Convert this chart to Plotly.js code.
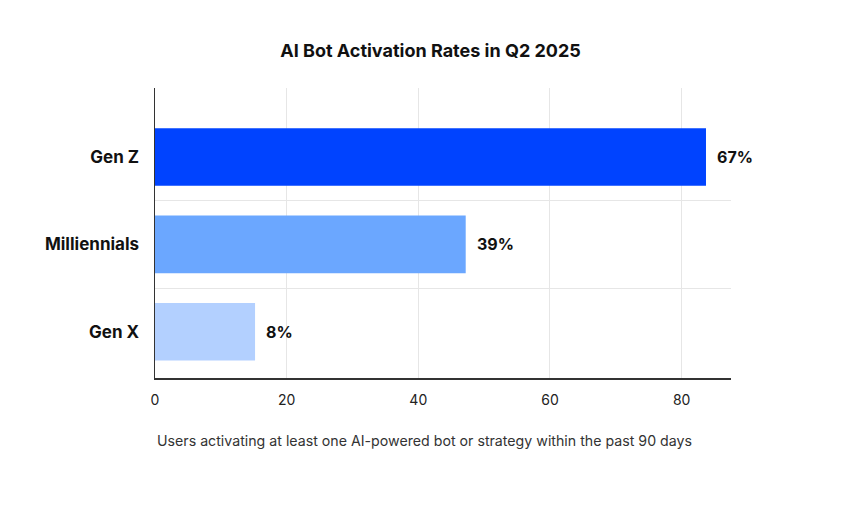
<!DOCTYPE html>
<html>
<head>
<meta charset="utf-8">
<script src="https://cdn.plot.ly/plotly-3.0.1.min.js"></script>
<style>html,body{margin:0;padding:0;background:#fff;}#chart{width:868px;height:510px;}</style>
</head>
<body>
<div id="chart"></div>
<script>
// Categories listed bottom to top
const categories = ["Gen X", "Milliennials", "Gen Z"];
const positions = [0, 1, 2];
const barValues = [15.2, 47.2, 83.7];
const valueLabels = ["8%", "39%", "67%"];
const barColors = ["#b3d0ff", "#6ba7ff", "#0043ff"];
const xTicks = [0, 20, 40, 60, 80];
const titleText = "AI Bot Activation Rates in Q2 2025";
const noteText = "Users activating at least one AI-powered bot or strategy within the past 90 days";

const FONT = "Inter, 'Noto Sans', 'DejaVu Sans', sans-serif";

const trace = {
  type: "bar",
  orientation: "h",
  x: barValues,
  y: positions,
  marker: {color: barColors, line: {width: 0}},
  width: 0.66,
  hoverinfo: "none"
};

const annotations = barValues.map((v, i) => ({
  x: v, y: positions[i], xref: "x", yref: "y",
  text: "<b>" + valueLabels[i] + "</b>",
  showarrow: false, xanchor: "left", xshift: 9,
  font: {family: FONT, size: 16, color: "#111"}
}));
annotations.push({
  x: 0, y: -0.217, xref: "paper", yref: "paper",
  text: noteText, showarrow: false, xanchor: "left", yanchor: "middle",
  font: {family: FONT, size: 14.2, color: "#333"}
});

const layout = {
  width: 868, height: 510,
  margin: {l: 155, r: 137, t: 88, b: 132},
  paper_bgcolor: "#fff", plot_bgcolor: "#fff",
  showlegend: false,
  title: {
    text: "<b>" + titleText + "</b>",
    x: 0.496, xref: "container", xanchor: "center", y: 0.9, yref: "container", yanchor: "middle",
    font: {family: FONT, size: 18, color: "#111"}
  },
  xaxis: {
    range: [0, 87.5],
    tickvals: xTicks,
    showgrid: true, gridcolor: "#e6e6e6", gridwidth: 1,
    zeroline: false,
    showline: true, linecolor: "#333", linewidth: 1.5,
    ticks: "", ticklabelstandoff: 9,
    tickfont: {family: FONT, size: 14, color: "#222"},
    fixedrange: true
  },
  yaxis: {
    range: [-0.53, 2.79],
    tickvals: positions,
    ticktext: categories.map(c => "<b>" + c + "</b>"),
    showgrid: false,
    minor: {tickvals: [0.5, 1.5], showgrid: true, gridcolor: "#e6e6e6", gridwidth: 1, ticks: ""},
    zeroline: false,
    showline: true, linecolor: "#333", linewidth: 1.5,
    ticks: "", ticklabelstandoff: 11,
    tickfont: {family: FONT, size: 17, color: "#111"},
    fixedrange: true
  },
  annotations: annotations
};

Plotly.newPlot("chart", [trace], layout, {displayModeBar: false, staticPlot: true});
</script>
</body>
</html>
